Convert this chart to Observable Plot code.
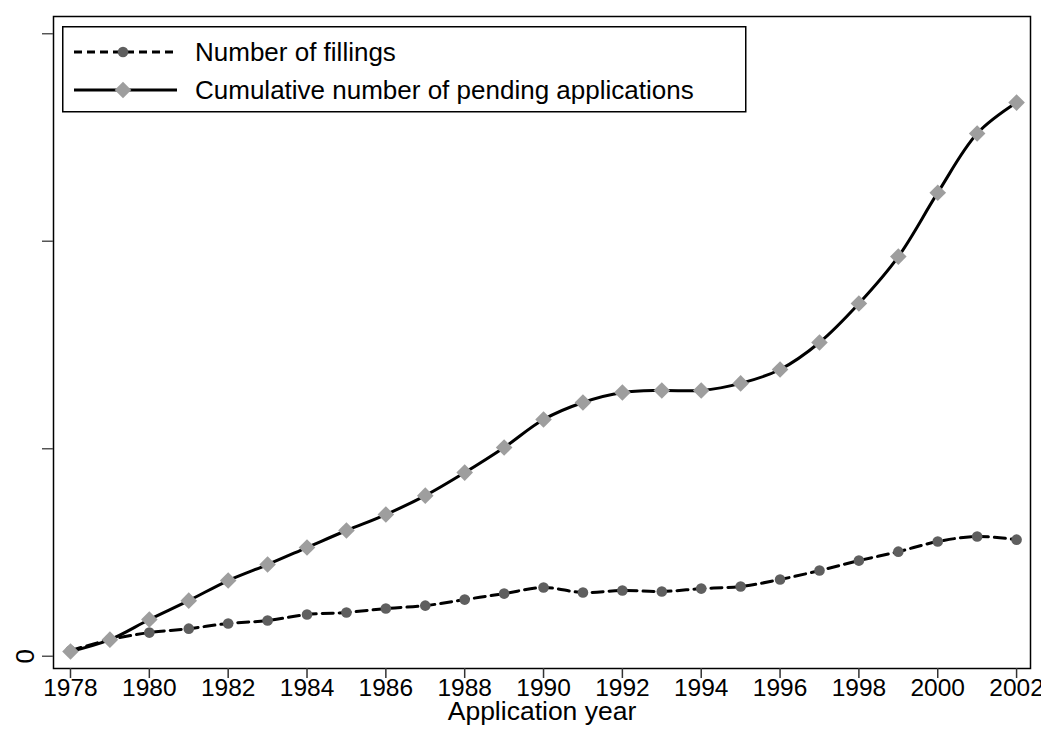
<!DOCTYPE html>
<html><head><meta charset="utf-8">
<script src="https://cdn.jsdelivr.net/npm/d3@7"></script>
<script src="https://cdn.jsdelivr.net/npm/@observablehq/plot@0.6"></script>
<style>
html,body{margin:0;padding:0;background:#fff;}
#wrap{position:relative;width:1041px;height:745px;font-family:"Liberation Sans",Arial,sans-serif;}
#legend{position:absolute;left:62px;top:26px;}
</style></head><body><div id="wrap"></div>
<script>
const years = [1978,1979,1980,1981,1982,1983,1984,1985,1986,1987,1988,1989,1990,1991,1992,1993,1994,1995,1996,1997,1998,1999,2000,2001,2002];
const filings = [27,80,114,133,158,172,201,211,230,244,273,302,331,307,317,312,326,336,370,413,461,504,553,577,562];
const pending = [23,80,177,268,365,442,524,606,683,774,885,1006,1141,1223,1271,1281,1281,1315,1382,1512,1700,1926,2234,2519,2668];
const yTicks = [0,1000,2000,3000];
const xTicks = [1978,1980,1982,1984,1986,1988,1990,1992,1994,1996,1998,2000,2002];
const seriesNames = ["Number of fillings","Cumulative number of pending applications"];
const xTitle = "Application year";

const diamond = { draw(ctx, size){ const h = Math.sqrt(size/Math.PI); ctx.moveTo(0,-h); ctx.lineTo(h,0); ctx.lineTo(0,h); ctx.lineTo(-h,0); ctx.closePath(); } };

const rows = years.map((y,i)=>({year:y, filings: filings[i], pending: pending[i]}));
const FONT = "Liberation Sans, Arial, sans-serif";

const plot = Plot.plot({
  width:1041, height:745, marginTop:16, marginLeft:53, marginRight:11, marginBottom:77,
  style:{fontFamily:FONT, fontSize:"25px", color:"black", background:"white", overflow:"visible"},
  x:{domain:[1977.569, 2002.353]},
  y:{domain:[-59, 3083]},
  marks:[
    Plot.frame({stroke:"black", strokeWidth:1.5}),
    Plot.axisY({ticks:yTicks, tickSize:11, tickFormat: d => d===0 ? "0" : "", tickRotate:-90, tickPadding:9, stroke:"#555", strokeWidth:1.5, label:null, fontSize:26}),
    Plot.axisX({ticks:xTicks, tickSize:10, tickFormat: d => String(d), tickPadding:0, label:null, stroke:"#333", strokeWidth:1.5, fontSize:24.5, letterSpacing:"-0.8px"}),
    Plot.text([xTitle], {frameAnchor:"bottom", dy:33, lineAnchor:"top", fontSize:26.5}),
    Plot.lineY(rows, {x:"year", y:"filings", stroke:"black", strokeWidth:3, strokeDasharray:"11,6", curve:"catmull-rom"}),
    Plot.dot(rows, {x:"year", y:"filings", r:5.3, fill:"#5f5f5f", stroke:"none"}),
    Plot.lineY(rows, {x:"year", y:"pending", stroke:"black", strokeWidth:3, curve:"catmull-rom"}),
    Plot.dot(rows, {x:"year", y:"pending", r:8.3, fill:"#9e9e9e", stroke:"none", symbol: diamond})
  ]
});
const wrap = document.getElementById("wrap");
wrap.appendChild(plot);

// legend
const lw = 683, lh = 85;
const lg = d3.select(wrap).append("svg").attr("id","legend").attr("width",lw+2).attr("height",lh+2)
  .style("font-family",FONT);
lg.append("rect").attr("x",0.75).attr("y",0.75).attr("width",lw).attr("height",lh).attr("fill","white").attr("stroke","black").attr("stroke-width",1.5);
const entries = [
  {name:seriesNames[0], dash:"8,5", fill:"#5f5f5f", sym:d3.symbolCircle, r:5.3},
  {name:seriesNames[1], dash:null, fill:"#9e9e9e", sym:diamond, r:8.3}
];
entries.forEach((e,i)=>{
  const cy = 26 + i*38;
  const g = lg.append("g");
  g.append("line").attr("x1",12).attr("x2",115).attr("y1",cy).attr("y2",cy).attr("stroke","black").attr("stroke-width",3).attr("stroke-dasharray",e.dash);
  g.append("path").attr("d", d3.symbol(e.sym, Math.PI*e.r*e.r)()).attr("transform",`translate(61,${cy})`).attr("fill",e.fill);
  g.append("text").attr("x",133).attr("y",cy).attr("dy","0.36em").attr("font-size",26).text(e.name);
});
</script></body></html>
